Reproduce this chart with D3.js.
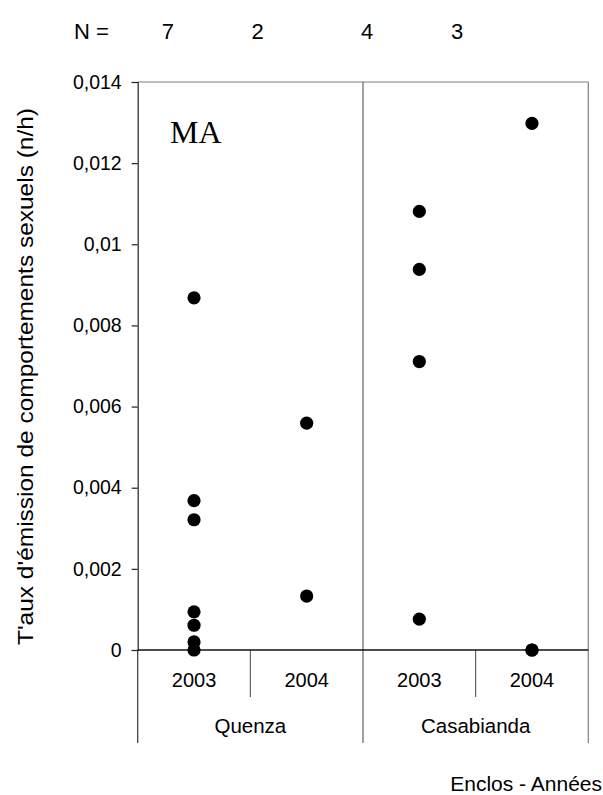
<!DOCTYPE html>
<html><head><meta charset="utf-8">
<script src="https://cdn.jsdelivr.net/npm/d3@7"></script>
<style>body{margin:0;background:#fff}svg{display:block}</style>
</head><body>
<script>
// ---- data ----
const groups = ["Quenza", "Casabianda"];
const years = ["2003", "2004"];
const cells = ["Quenza 2003", "Quenza 2004", "Casabianda 2003", "Casabianda 2004"];
const nCounts = [7, 2, 4, 3];
const valuesQuenza2003 = [0.00868, 0.00368, 0.00321, 0.00094, 0.00061, 0.0002, 0];
const valuesQuenza2004 = [0.00559, 0.00133];
const valuesCasabianda2003 = [0.01081, 0.00938, 0.00711, 0.00076];
const valuesCasabianda2004 = [0.01298, 0, 0];
const yTicks = [0, 0.002, 0.004, 0.006, 0.008, 0.01, 0.012, 0.014];
const yTitle = "T'aux d'émission de comportements sexuels (n/h)";
const xTitle = "Enclos - Années";
const panelLabel = "MA";

const series = [valuesQuenza2003, valuesQuenza2004, valuesCasabianda2003, valuesCasabianda2004];

// ---- layout ----
const W = 603, H = 795;
const mLeft = 137.7, mRight = 588.3, mTop = 82, mBottom = 650;
const svg = d3.select("body").append("svg").attr("width", W).attr("height", H);
const font = "Liberation Sans, Arial, sans-serif";

const y = d3.scaleLinear().domain([0, 0.014]).range([mBottom, mTop]);
const x = d3.scaleBand().domain(cells).range([mLeft, mRight]).padding(0);
const xg = d3.scaleBand().domain(groups).range([mLeft, mRight]).padding(0);

const loc = d3.formatLocale({decimal: ",", thousands: " ", grouping: [3], currency: ["", "€"]});
const fmt = loc.format("~g");

// frame lines
const gray = "#7f7f7f";
svg.append("line").attr("x1", mLeft).attr("x2", mRight).attr("y1", mTop).attr("y2", mTop)
  .attr("stroke", gray).attr("stroke-width", 1.2);
svg.append("line").attr("x1", mRight).attr("x2", mRight).attr("y1", mTop).attr("y2", 743)
  .attr("stroke", gray).attr("stroke-width", 1.2);
svg.append("line").attr("x1", xg("Casabianda")).attr("x2", xg("Casabianda")).attr("y1", mTop).attr("y2", 743)
  .attr("stroke", "#555").attr("stroke-width", 1.1);
svg.append("line").attr("x1", mLeft).attr("x2", mLeft).attr("y1", mBottom).attr("y2", 743)
  .attr("stroke", "#333").attr("stroke-width", 1.2);
// year separators
groups.forEach(g => {
  const xs = x(g + " 2004");
  svg.append("line").attr("x1", xs).attr("x2", xs).attr("y1", mBottom).attr("y2", 697)
    .attr("stroke", "#555").attr("stroke-width", 1.1);
});

// y axis
const yAxis = d3.axisLeft(y).tickValues(yTicks).tickSize(6).tickPadding(10).tickFormat(fmt);
const ga = svg.append("g").attr("transform", `translate(${mLeft},0)`).call(yAxis);
ga.select(".domain").attr("stroke", "#222").attr("stroke-width", 1.2);
ga.selectAll(".tick line").attr("stroke", "#222").attr("stroke-width", 1.2);
ga.selectAll(".tick text").attr("font-family", font).attr("font-size", 19.5).attr("fill", "#000");

// baseline
svg.append("line").attr("x1", mLeft).attr("x2", mRight).attr("y1", y(0)).attr("y2", y(0))
  .attr("stroke", "#111").attr("stroke-width", 1.3);

// year labels
svg.selectAll("text.year").data(cells).join("text").attr("class", "year")
  .attr("x", d => x(d) + x.bandwidth() / 2).attr("y", 687)
  .attr("text-anchor", "middle").attr("font-family", font).attr("font-size", 20)
  .text(d => d.split(" ")[1]);
// group labels
svg.selectAll("text.grp").data(groups).join("text").attr("class", "grp")
  .attr("x", d => xg(d) + xg.bandwidth() / 2).attr("y", 733)
  .attr("text-anchor", "middle").attr("font-family", font).attr("font-size", 20.5)
  .text(d => d);

// points
series.forEach((vals, i) => {
  svg.selectAll(null).data(vals).join("circle")
    .attr("cx", x(cells[i]) + x.bandwidth() / 2)
    .attr("cy", d => y(d)).attr("r", 6.6).attr("fill", "#000");
});

// N labels
const nX = [167.8, 257.5, 367, 457];
svg.append("text").attr("x", 74).attr("y", 38.5).attr("font-family", font).attr("font-size", 22).text("N =");
svg.selectAll("text.n").data(nCounts).join("text").attr("class", "n")
  .attr("x", (d, i) => nX[i]).attr("y", 38.5).attr("text-anchor", "middle")
  .attr("font-family", font).attr("font-size", 22).text(d => d);

// panel label
svg.append("text").attr("x", 170).attr("y", 143.3).attr("font-family", "Liberation Serif, Times New Roman, serif")
  .attr("font-size", 32).text(panelLabel);

// y title
svg.append("text").attr("transform", "translate(33.3,376.5) rotate(-90)")
  .attr("text-anchor", "middle").attr("font-family", font).attr("font-size", 22)
  .attr("textLength", 537).attr("lengthAdjust", "spacingAndGlyphs").text(yTitle);

// x title
svg.append("text").attr("x", 602).attr("y", 791).attr("text-anchor", "end")
  .attr("font-family", font).attr("font-size", 21).text(xTitle);
</script>
</body></html>
